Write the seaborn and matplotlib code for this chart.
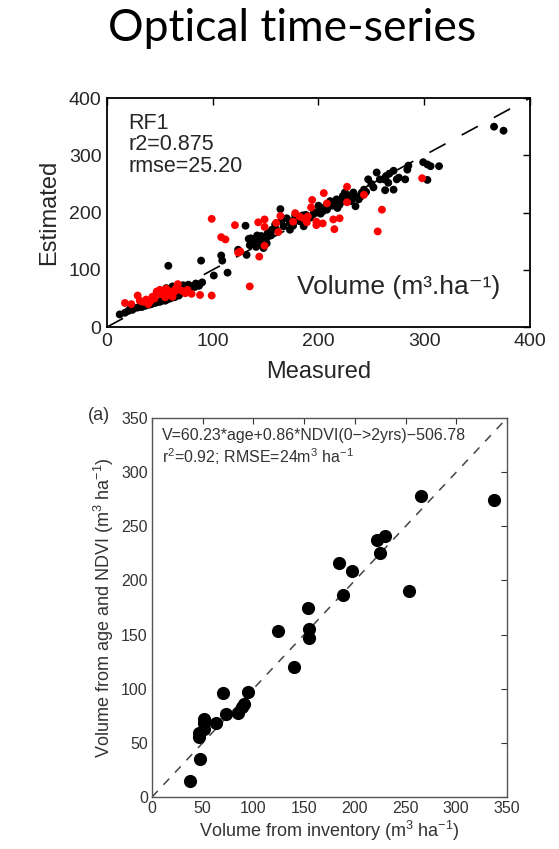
import numpy as np
import pandas as pd
import matplotlib
matplotlib.use('Agg')
import matplotlib.pyplot as plt
import seaborn as sns

# top panel: RF1 estimated vs measured volume (black / red groups)
black_x = [12, 17, 20, 24, 26, 29, 31, 33, 36, 38, 40, 42, 45, 47, 50, 52, 55, 57, 56, 58,
           60, 62, 64, 67, 68, 70, 72, 74, 77, 78, 80, 83, 85, 87, 90, 89,
           101, 108, 109, 114, 124, 131, 132, 134, 135, 136, 139, 141, 143, 144, 146, 146,
           148, 150, 151, 152, 156, 159, 164, 167, 173, 173, 176, 182, 186, 189, 192, 195,
           201, 205, 207, 211, 213, 217, 220, 223, 225, 227, 231, 233, 235, 238, 241, 247,
           252, 255, 258, 263, 263, 266, 271, 271, 274, 264, 262, 276, 282, 284, 285, 299,
           303, 306, 314, 303, 366, 375,
           170, 178, 185, 198, 202, 208, 215, 218, 222, 228, 160, 155, 165, 200, 210, 230,
           240, 245, 175,
           22, 35, 44, 53, 61, 66, 73, 79, 84, 138, 142, 149, 180, 188, 196, 204, 212, 219,
           226, 236, 243, 250, 267]
black_y = [22, 25, 28, 30, 33, 34, 36, 35, 37, 39, 39, 40, 42, 43, 44, 46, 46, 48, 68, 107,
           50, 71, 52, 71, 55, 60, 73, 62, 74, 66, 71, 70, 75, 72, 78, 116,
           90, 125, 116, 95, 135, 177, 126, 154, 143, 155, 152, 140, 157, 152, 159, 143,
           138, 152, 146, 164, 170, 179, 206, 176, 170, 182, 177, 185, 176, 188, 191, 197,
           205, 208, 211, 220, 212, 223, 214, 229, 235, 226, 220, 235, 211, 223, 235, 258,
           244, 270, 258, 261, 239, 252, 273, 240, 258, 264, 258, 261, 258, 275, 282, 288,
           284, 281, 281, 257, 350, 343,
           190, 195, 195, 200, 198, 205, 215, 208, 220, 222, 170, 160, 185, 212, 215, 230,
           228, 236, 185,
           32, 40, 46, 50, 56, 63, 66, 70, 76, 148, 160, 150, 190, 196, 200, 202, 218, 222,
           230, 228, 240, 250, 268]
red_x = [17, 23, 29, 34, 39, 43, 47, 50, 53, 56, 59, 61, 64, 67, 62, 74, 76, 80, 88, 99,
         108, 112, 124, 121, 135, 144, 126, 143, 149, 149, 149, 160, 164, 162, 176, 178,
         182, 186, 190, 189, 194, 193, 198, 198, 204, 205, 208, 214, 220, 215, 227, 227,
         243, 260, 256, 298, 99,
         31, 37, 45, 52, 57, 65, 70, 55, 48, 41]
red_y = [42, 40, 55, 44, 40, 53, 62, 65, 59, 67, 56, 62, 62, 75, 53, 59, 65, 58, 56, 55,
         157, 153, 130, 178, 71, 123, 132, 183, 188, 175, 142, 182, 194, 166, 184, 199,
         193, 190, 193, 183, 222, 209, 184, 178, 181, 234, 216, 188, 190, 171, 245, 218,
         231, 205, 167, 260, 189,
         46, 48, 50, 57, 60, 67, 64, 52, 58, 45]

# bottom panel: volume from age and NDVI vs inventory
inv_x = [37, 47, 46, 46, 51, 51, 51, 63, 70, 73, 85, 89, 91, 95, 124, 140, 154, 155, 155,
         184, 188, 197, 222, 225, 230, 253, 265, 337]
ndvi_y = [15, 35, 55, 59, 63, 68, 72, 68, 96, 77, 78, 83, 86, 97, 153, 120, 175, 155, 147,
          216, 187, 209, 237, 225, 241, 190, 278, 274]

top_ticks = [0, 100, 200, 300, 400]
bot_ticks = [0, 50, 100, 150, 200, 250, 300, 350]

sns.set_style('white')
plt.rcParams['font.family'] = ['Liberation Sans', 'DejaVu Sans']
plt.rcParams['mathtext.fontset'] = 'custom'
plt.rcParams['mathtext.rm'] = 'Liberation Sans'
plt.rcParams['mathtext.it'] = 'Liberation Sans:italic'

df_top = pd.DataFrame({
    'Measured': black_x + red_x,
    'Estimated': black_y + red_y,
    'group': ['b'] * len(black_x) + ['r'] * len(red_x),
})
df_bot = pd.DataFrame({'inv': inv_x, 'ndvi': ndvi_y})

fig = plt.figure(figsize=(5.59, 8.49), dpi=100)
fig.text(0.522, 0.967, 'Optical time-series', ha='center', va='center',
         fontsize=32, family='Lato', color='black')

# ---- top panel
ax1 = fig.add_axes([0.1914, 0.6148, 0.7567, 0.2697])
ax1.plot([0, 400], [0, 400], color='black', lw=1.2, dashes=(11, 11), zorder=1)
sns.scatterplot(data=df_top, x='Measured', y='Estimated', hue='group',
                palette={'b': 'black', 'r': '#ff0000'}, s=32, linewidth=0,
                legend=False, ax=ax1, zorder=2)
ax1.set_xlim(0, 400)
ax1.set_ylim(0, 400)
ax1.set_xticks(top_ticks)
ax1.set_yticks(top_ticks)
ax1.tick_params(direction='in', top=True, right=True, length=5, width=1,
                labelsize=14, pad=4, color='black')
for sp in ax1.spines.values():
    sp.set_color('black')
    sp.set_linewidth(1.3)
ax1.set_xlabel('Measured', fontsize=17, labelpad=8)
ax1.set_ylabel('Estimated', fontsize=17, labelpad=6)
ax1.text(0.05, 0.935, 'RF1\nr2=0.875\nrmse=25.20', transform=ax1.transAxes,
         ha='left', va='top', fontsize=15.5, linespacing=1.02)
ax1.text(0.93, 0.175, 'Volume (m\u00b3.ha\u207b\u00b9)', transform=ax1.transAxes,
         ha='right', va='center', fontsize=19)

# ---- bottom panel
gray = '#333333'
ax2 = fig.add_axes([0.2719, 0.0612, 0.635, 0.4464])
ax2.plot([0, 350], [0, 350], color='#444444', lw=1.1, dashes=(5.5, 5.5), zorder=1)
sns.scatterplot(data=df_bot, x='inv', y='ndvi', color='black', s=90,
                linewidth=0, ax=ax2, zorder=2)
ax2.set_xlim(0, 350)
ax2.set_ylim(0, 350)
ax2.set_xticks(bot_ticks)
ax2.set_yticks(bot_ticks)
ax2.tick_params(direction='in', top=True, right=True, length=4, width=0.8,
                labelsize=11.5, pad=3, color=gray, labelcolor=gray)
for sp in ax2.spines.values():
    sp.set_color('#555555')
    sp.set_linewidth(1.0)
ax2.set_xlabel('Volume from inventory (m$^3$ ha$^{-1}$)', fontsize=13,
               color=gray, labelpad=2)
ax2.set_ylabel('Volume from age and NDVI (m$^3$ ha$^{-1}$)', fontsize=13,
               color=gray, labelpad=4)
ax2.text(0.028, 0.955, 'V=60.23*age+0.86*NDVI(0\u2212>2yrs)\u2212506.78',
         transform=ax2.transAxes, ha='left', va='center', fontsize=11.5, color=gray)
ax2.text(0.028, 0.897, 'r$^2$=0.92; RMSE=24m$^3$ ha$^{-1}$',
         transform=ax2.transAxes, ha='left', va='center', fontsize=11.5, color=gray)
fig.text(0.177, 0.511, '(a)', ha='center', va='center', fontsize=13, color=gray)

fig.savefig('out.png', dpi=100)
